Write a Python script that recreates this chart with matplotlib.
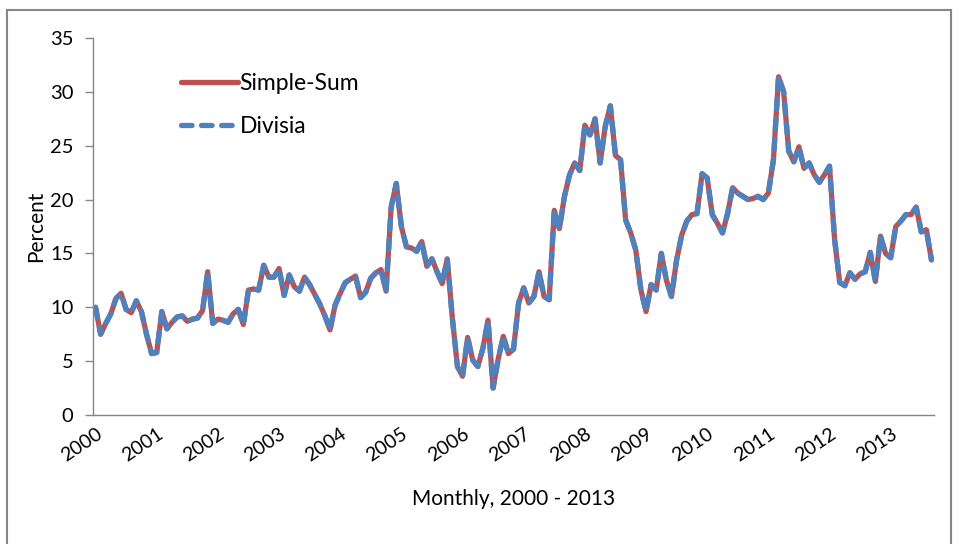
import matplotlib
matplotlib.use("Agg")
import matplotlib.pyplot as plt
from matplotlib.lines import Line2D

plt.rcParams["font.family"] = ["Lato", "DejaVu Sans"]

# monthly growth rates, Jan 2000 .. Sep 2013
years = ["2000", "2001", "2002", "2003", "2004", "2005", "2006",
         "2007", "2008", "2009", "2010", "2011", "2012", "2013"]

simple_sum = [
    10.0, 7.5, 8.5, 9.4, 10.8, 11.3, 9.8, 9.5, 10.6, 9.6, 7.5, 5.7,
    5.8, 9.6, 8.0, 8.6, 9.1, 9.2, 8.7, 8.9, 9.0, 9.7, 13.3, 8.5,
    8.9, 8.8, 8.6, 9.4, 9.8, 8.4, 11.6, 11.7, 11.6, 13.9, 12.8, 12.8,
    13.6, 11.1, 13.0, 11.9, 11.5, 12.8, 12.1, 11.2, 10.3, 9.2, 7.9, 10.2,
    11.3, 12.3, 12.6, 12.9, 10.9, 11.4, 12.7, 13.2, 13.5, 11.5, 19.3, 21.5,
    17.5, 15.6, 15.5, 15.2, 16.1, 13.8, 14.5, 13.3, 12.2, 14.5, 9.0, 4.5,
    3.6, 7.2, 5.1, 4.5, 6.2, 8.8, 2.5, 5.2, 7.3, 5.7, 6.1, 10.4,
    11.8, 10.4, 11.0, 13.3, 11.0, 10.7, 19.0, 17.3, 20.3, 22.3, 23.4, 22.7,
    26.9, 26.0, 27.5, 23.4, 26.8, 28.7, 24.1, 23.7, 18.1, 16.9, 15.3, 11.6,
    9.6, 12.1, 11.6, 15.0, 12.5, 11.0, 14.4, 16.7, 18.0, 18.6, 18.7, 22.4,
    22.0, 18.6, 17.8, 16.9, 18.7, 21.1, 20.6, 20.3, 20.0, 20.1, 20.3, 20.0,
    20.6, 23.7, 31.4, 30.0, 24.5, 23.5, 24.9, 22.9, 23.4, 22.3, 21.6, 22.3,
    23.1, 16.3, 12.3, 12.0, 13.2, 12.6, 13.1, 13.3, 15.1, 12.4, 16.6, 15.0,
    14.6, 17.5, 18.0, 18.6, 18.6, 19.3, 17.0, 17.2, 14.4,
]

divisia = [
    10.0, 7.5, 8.5, 9.4, 10.8, 11.3, 9.8, 9.5, 10.6, 9.6, 7.5, 5.7,
    5.8, 9.6, 8.0, 8.6, 9.1, 9.2, 8.7, 8.9, 9.0, 9.7, 13.3, 8.5,
    8.9, 8.8, 8.6, 9.4, 9.8, 8.4, 11.6, 11.7, 11.6, 13.9, 12.8, 12.8,
    13.6, 11.1, 13.0, 11.9, 11.5, 12.8, 12.1, 11.2, 10.3, 9.2, 7.9, 10.2,
    11.3, 12.3, 12.6, 12.9, 10.9, 11.4, 12.7, 13.2, 13.5, 11.5, 19.3, 21.5,
    17.5, 15.6, 15.5, 15.2, 16.1, 13.8, 14.5, 13.3, 12.2, 14.5, 9.0, 4.5,
    3.6, 7.2, 5.1, 4.5, 6.2, 8.8, 2.5, 5.2, 7.3, 5.7, 6.1, 10.4,
    11.8, 10.4, 11.0, 13.3, 11.0, 10.7, 19.0, 17.3, 20.3, 22.3, 23.4, 22.7,
    26.9, 26.0, 27.5, 23.4, 26.8, 28.7, 24.1, 23.7, 18.1, 16.9, 15.3, 11.6,
    9.6, 12.1, 11.6, 15.0, 12.5, 11.0, 14.4, 16.7, 18.0, 18.6, 18.7, 22.4,
    22.0, 18.6, 17.8, 16.9, 18.7, 21.1, 20.6, 20.3, 20.0, 20.1, 20.3, 20.0,
    20.6, 23.7, 31.4, 30.0, 24.5, 23.5, 24.9, 22.9, 23.4, 22.3, 21.6, 22.3,
    23.1, 16.3, 12.3, 12.0, 13.2, 12.6, 13.1, 13.3, 15.1, 12.4, 16.6, 15.0,
    14.6, 17.5, 18.0, 18.6, 18.6, 19.3, 17.0, 17.2, 14.4,
]

RED = "#C0504D"
BLUE = "#4F81BD"
GREY = "#868686"

fig = plt.figure(figsize=(9.59, 5.44), dpi=100)
fig.patch.set_facecolor("white")

# outer chart-area border
for xs, ys in [([7, 7], [0, 534]), ([7, 951], [534, 534]), ([951, 951], [0, 534])]:
    fig.add_artist(Line2D([x / 959 for x in xs], [y / 544 for y in ys],
                          color=GREY, linewidth=1.5))

ax = fig.add_axes([93 / 959, 129 / 544, 841 / 959, 377 / 544])

months = list(range(len(simple_sum)))
ax.plot(months, simple_sum, color=RED, linewidth=3.8, solid_capstyle="round",
        solid_joinstyle="round", label="Simple-Sum")
ax.plot(months, divisia, color=BLUE, linewidth=3.8, dashes=(2.0, 1.8),
        dash_capstyle="round", dash_joinstyle="round", label="Divisia")

ax.set_xlim(-0.5, len(simple_sum) - 0.5)
ax.set_ylim(0, 35)
ax.set_yticks(range(0, 36, 5))
ax.set_xticks([12 * k for k in range(len(years))])
ax.set_xticklabels(years, rotation=34, ha="right", rotation_mode="anchor")

for side in ["top", "right"]:
    ax.spines[side].set_visible(False)
for side in ["left", "bottom"]:
    ax.spines[side].set_color(GREY)
    ax.spines[side].set_linewidth(1.0)

ax.tick_params(axis="y", length=6, width=1, color=GREY, pad=8, labelsize=14.5)
ax.tick_params(axis="x", length=0, pad=7, labelsize=14)

ax.set_xlabel("Monthly, 2000 - 2013", fontsize=15, labelpad=18)
ax.set_ylabel("Percent", fontsize=15, labelpad=2.5)

ax.legend(loc="upper left", bbox_to_anchor=(0.091, 0.937), frameon=False,
          fontsize=16.5, handlelength=2.5, handletextpad=0.05, labelspacing=0.95,
          borderpad=0)

fig.savefig("out.png", dpi=100, facecolor="white")
